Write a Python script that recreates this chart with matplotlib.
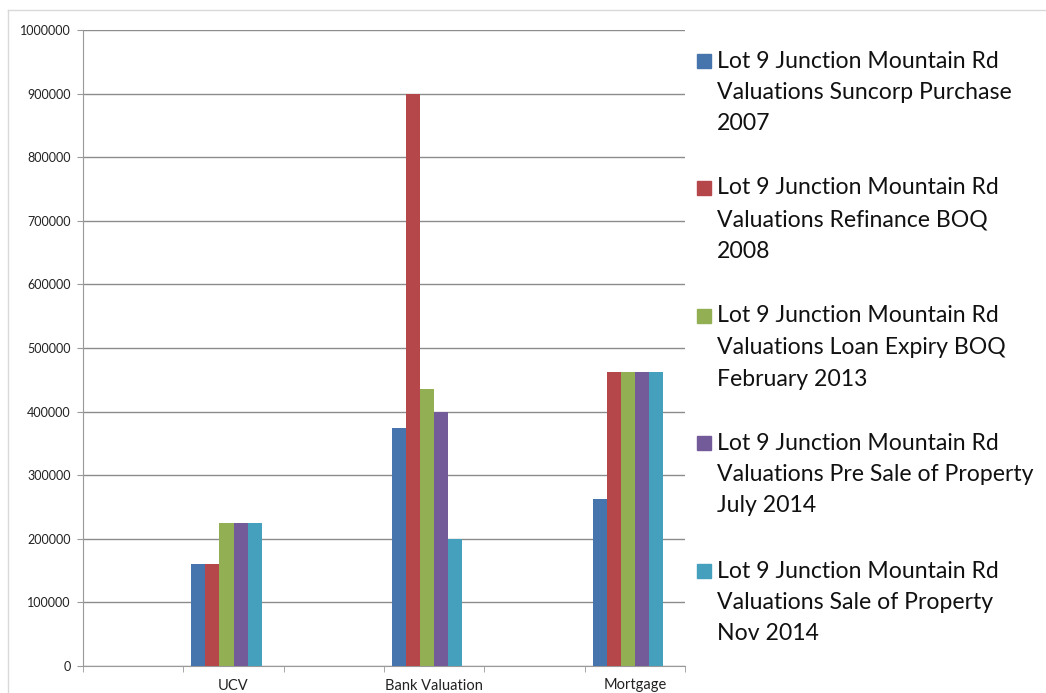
import matplotlib
matplotlib.use("Agg")
import matplotlib.pyplot as plt
import numpy as np
from matplotlib.patches import Rectangle
from matplotlib.lines import Line2D

categories = ["", "UCV", "", "Bank Valuation", "", "Mortgage"]
series_names = [
    ["Lot 9 Junction Mountain Rd", "Valuations Suncorp Purchase", "2007"],
    ["Lot 9 Junction Mountain Rd", "Valuations Refinance BOQ", "2008"],
    ["Lot 9 Junction Mountain Rd", "Valuations Loan Expiry BOQ", "February 2013"],
    ["Lot 9 Junction Mountain Rd", "Valuations Pre Sale of Property", "July 2014"],
    ["Lot 9 Junction Mountain Rd", "Valuations Sale of Property", "Nov 2014"],
]
nan = np.nan
suncorp_2007 = [nan, 160000, nan, 375000, nan, 262000]
refinance_2008 = [nan, 160000, nan, 900000, nan, 462500]
loan_expiry_2013 = [nan, 225000, nan, 435000, nan, 462500]
pre_sale_2014 = [nan, 225000, nan, 400000, nan, 462500]
sale_2014 = [nan, 225000, nan, 200000, nan, 462500]
series_values = [suncorp_2007, refinance_2008, loan_expiry_2013, pre_sale_2014, sale_2014]
colors = ["#4674AC", "#B5474A", "#92AF54", "#735A98", "#44A0BD"]
y_ticks = list(range(0, 1000001, 100000))

W, H = 1046, 693
fig = plt.figure(figsize=(W / 100, H / 100), dpi=100)
font = "Lato"

ax = fig.add_axes([83 / W, (H - 666) / H, (685 - 83) / W, (666 - 30) / H])
n_slots = 6  # Excel reserved a sixth (empty) series slot
bw = 0.14
x = np.arange(len(categories)) + 0.5
for i, (vals, c) in enumerate(zip(series_values, colors)):
    off = -n_slots * bw / 2 + bw / 2 + i * bw
    ax.bar(x + off, vals, width=bw, color=c, edgecolor="none", zorder=3)

ax.set_xlim(0, len(categories))
ax.set_ylim(0, 1000000)
ax.set_yticks(y_ticks)
ax.set_yticklabels([str(v) for v in y_ticks], fontsize=9, family=font, color="#222222")
ax.yaxis.grid(True, color="#8c8c8c", linewidth=1.0, zorder=0)
ax.tick_params(axis="y", length=4, color="#999999", pad=5)

ax.set_xticks(x)
ax.set_xticklabels(categories, fontsize=10.5, family=font, color="#222222")
ax.set_xticks(np.arange(len(categories) + 1), minor=True)
ax.tick_params(axis="x", which="major", length=0, pad=9)
ax.tick_params(axis="x", which="minor", length=4, color="#999999")

for s in ["top", "right"]:
    ax.spines[s].set_visible(False)
ax.spines["left"].set_color("#999999")
ax.spines["bottom"].set_color("#999999")

# legend
first_y = [61, 188, 316, 443, 571]
line_h = 31.5
for name, c, y0 in zip(series_names, colors, first_y):
    fig.patches.append(Rectangle((697 / W, (H - y0 - 7) / H), 14 / W, 14 / H,
                                 transform=fig.transFigure, color=c))
    for j, line in enumerate(name):
        fig.text(717 / W, (H - (y0 + j * line_h)) / H, line, fontsize=16.6, family=font,
                 va="center", ha="left", color="#111111")

# outer chart border
fig.add_artist(Line2D([8 / W, 8 / W], [0, (H - 10) / H], transform=fig.transFigure, color="#d9d9d9", lw=1))
fig.add_artist(Line2D([8 / W, 1], [(H - 10) / H, (H - 10) / H], transform=fig.transFigure, color="#d9d9d9", lw=1))

fig.savefig("out.png", dpi=100)
